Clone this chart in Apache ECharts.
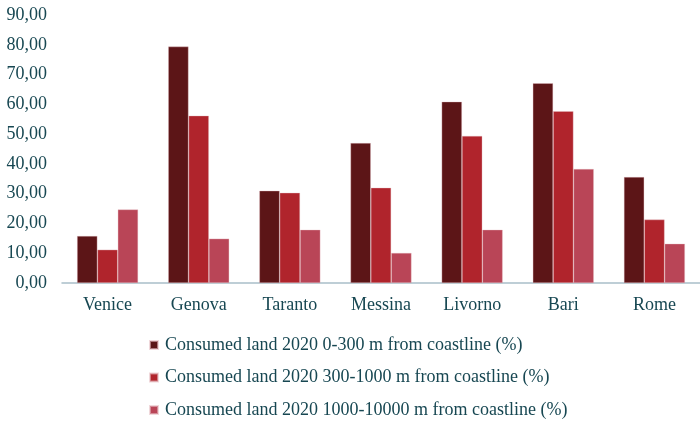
<!DOCTYPE html>
<html>
<head>
<meta charset="utf-8">
<script src="https://cdn.jsdelivr.net/npm/echarts@6/dist/echarts.min.js"></script>
<style>
  html, body { margin: 0; padding: 0; background: #fff; }
  #chart { width: 700px; height: 422px; }
</style>
</head>
<body>
<div id="chart"></div>
<script>
// Share of consumed land by distance band from the coastline, per city
const cities = ['Venice', 'Genova', 'Taranto', 'Messina', 'Livorno', 'Bari', 'Rome'];
const band0to300 = [15.8, 79.4, 31.0, 47.0, 60.9, 67.1, 35.6];
const band300to1000 = [11.2, 56.2, 30.3, 32.0, 49.4, 57.7, 21.3];
const band1000to10000 = [24.7, 14.9, 17.9, 10.1, 17.9, 38.3, 13.2];
const seriesNames = [
  'Consumed land 2020 0-300 m from coastline (%)',
  'Consumed land 2020 300-1000 m from coastline (%)',
  'Consumed land 2020 1000-10000 m from coastline (%)'
];
const yTicks = { min: 0, max: 90, interval: 10 };

const textColor = '#174752';
const fontFamily = '"Liberation Serif", "Times New Roman", serif';
const colors = ['#5c1517', '#b0242c', '#b94557'];

const chart = echarts.init(document.getElementById('chart'), null, { renderer: 'canvas' });

const values = [band0to300, band300to1000, band1000to10000];

chart.setOption({
  animation: false,
  backgroundColor: '#ffffff',
  textStyle: { fontFamily: fontFamily, color: textColor },
  grid: { left: 62, right: 0, top: 15, bottom: 139, containLabel: false },
  legend: {
    orient: 'vertical',
    left: 149,
    top: 336,
    height: 86,
    padding: 0,
    itemWidth: 8,
    itemHeight: 8,
    itemGap: 14.5,
    icon: 'rect',
    textStyle: { fontFamily: fontFamily, fontSize: 18, color: textColor, padding: [0, 0, 0, 2] },
    data: seriesNames
  },
  xAxis: {
    type: 'category',
    data: cities,
    axisLine: { show: true, lineStyle: { color: '#a9bfc9', width: 1.5 } },
    axisTick: { show: false },
    axisLabel: { fontFamily: fontFamily, fontSize: 18, color: textColor, margin: 13 }
  },
  yAxis: {
    type: 'value',
    min: yTicks.min,
    max: yTicks.max,
    interval: yTicks.interval,
    splitLine: { show: false },
    axisLine: { show: false },
    axisTick: { show: false },
    axisLabel: {
      fontFamily: fontFamily,
      fontSize: 18,
      color: textColor,
      margin: 15,
      formatter: v => v.toFixed(2).replace('.', ',')
    }
  },
  series: seriesNames.map((name, i) => ({
    name: name,
    type: 'bar',
    data: values[i],
    barGap: '0%',
    barCategoryGap: '33%',
    itemStyle: { color: colors[i], borderColor: 'rgba(230,190,195,0.6)', borderWidth: 0.6 }
  }))
});
</script>
</body>
</html>
